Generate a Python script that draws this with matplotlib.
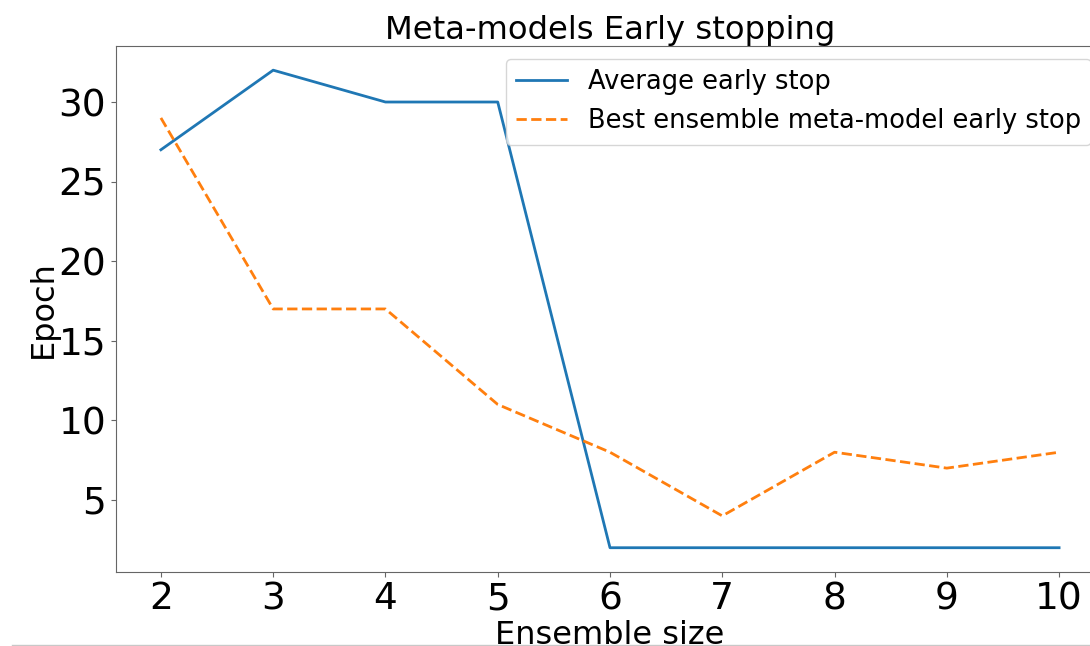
import matplotlib
matplotlib.use("Agg")
import matplotlib.pyplot as plt
from matplotlib.lines import Line2D

ensemble_size = [2, 3, 4, 5, 6, 7, 8, 9, 10]
average_stop = [27, 32, 30, 30, 2, 2, 2, 2, 2]
best_meta_stop = [29, 17, 17, 11, 8, 4, 8, 7, 8]

fig = plt.figure(figsize=(10.9, 6.46), dpi=100)
# axes runs past the right edge, like the cropped screenshot
ax = fig.add_axes([116 / 1090, 74.4 / 646, 988 / 1090, 525.3 / 646])

ax.plot(ensemble_size, average_stop, color="#1f77b4", linewidth=2, label="Average early stop")
ax.plot(ensemble_size, best_meta_stop, color="#ff7f0e", linewidth=2, linestyle="--",
        label="Best ensemble meta-model early stop")

ax.set_title("Meta-models Early stopping", fontsize=23.2, pad=0)
ax.set_xlabel("Ensemble size", fontsize=23)
ax.set_ylabel("Epoch", fontsize=23)
ax.xaxis.set_label_coords(0.5, -0.093)
ax.yaxis.set_label_coords(-0.058, 0.5)
ax.set_xticks(ensemble_size)
ax.set_yticks([5, 10, 15, 20, 25, 30])
ax.tick_params(labelsize=27)
for s in ax.spines.values():
    s.set_color("0.4")
ax.tick_params(color="0.4")

ax.legend(loc="upper right", fontsize=18.5)

fig.add_artist(Line2D([12 / 1090, 1.0], [1.5 / 646, 1.5 / 646], color="#c8c8c8", linewidth=1))

fig.savefig("out.png", dpi=100)
